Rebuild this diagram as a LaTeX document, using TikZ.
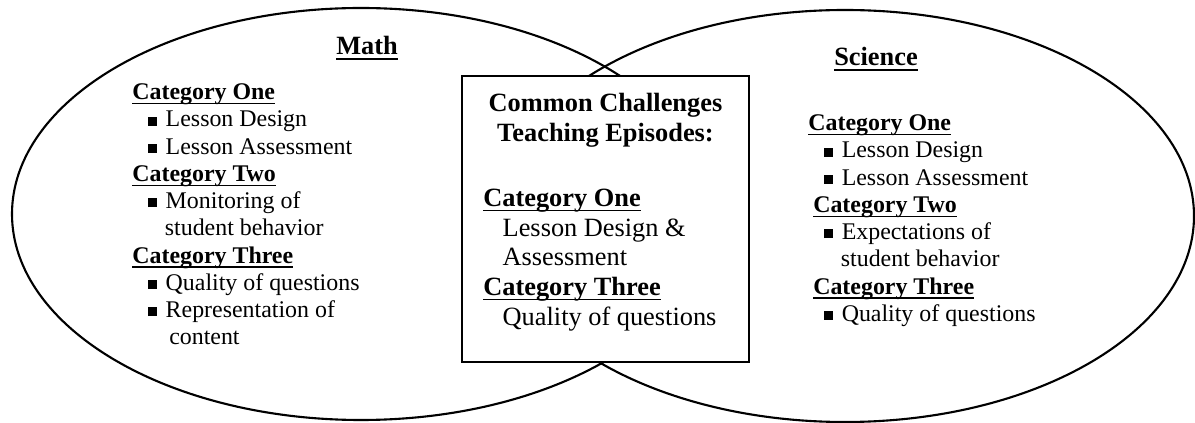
\documentclass[tikz,border=0pt]{standalone}
\usepackage{fontspec}
\setmainfont{Liberation Serif}
\usetikzlibrary{positioning}

% bold heading with a thin rule just under the baseline
\newcommand{\catul}[1]{\textbf{\sbox0{#1}\rlap{\rule[-2.7pt]{\wd0}{0.8pt}}\usebox0}}
% square bullet and the indent of a wrapped item line
\newcommand{\sqitem}{\hspace*{9pt}\rule[0.8pt]{5pt}{5pt}\hspace{5pt}}
\newcommand{\wrapline}{\hspace*{18.5pt}}

\begin{document}
\begin{tikzpicture}[
  set/.style={line width=1.2pt},
  title/.style={font=\fontsize{15}{17}\selectfont, inner sep=0pt, anchor=base},
  list/.style={font=\fontsize{13.6}{15.5}\selectfont, align=left, inner sep=0pt, anchor=north west},
  common/.style={draw, line width=1.2pt, fill=white, minimum width=5.74cm, minimum height=5.72cm},
  boxtext/.style={font=\fontsize{15}{16.9}\selectfont, inner sep=0pt}
]
\useasboundingbox (0,0) rectangle (23.9,8.46);

% the two sets
\draw[set] (7.22,4.18) ellipse [x radius=6.98cm, y radius=4.12cm];
\draw[set] (16.9,4.14) ellipse [x radius=6.98cm, y radius=4.12cm];

% shared part
\node[common] (shared) at (12.11,4.08) {};

% Math side
\node[title] (mathtitle) at (7.34,7.36) {\catul{Math}};
\node[list] (mathlist) at (2.64,6.79) {%
  \catul{Category One}\\
  \sqitem Lesson Design\\
  \sqitem Lesson Assessment\\
  \catul{Category Two}\\
  \sqitem Monitoring of\\
  \wrapline student behavior\\
  \catul{Category Three}\\
  \sqitem Quality of questions\\
  \sqitem Representation of\\
  \hspace*{21pt}content};

% Science side
\node[title] (scitle) at (17.52,7.14) {\catul{Science}};
\node[list] (scilist) at (16.16,6.17) {%
  \catul{Category One}\\
  \sqitem Lesson Design\\
  \sqitem Lesson Assessment\\
  \hspace*{2.8pt}\catul{Category Two}\\
  \sqitem Expectations of\\
  \wrapline student behavior\\
  \hspace*{2.8pt}\catul{Category Three}\\
  \sqitem Quality of questions};

% text inside the shared box
\node[boxtext, align=center, anchor=north, below=0.36cm of shared.north] (sharedtitle)
  {\textbf{Common Challenges}\\\textbf{Teaching Episodes:}};
\node[boxtext, align=left, anchor=north west] (sharedlist) at (9.66,4.69) {%
  \catul{Category One}\\
  \hspace*{11pt}Lesson Design \&\\
  \hspace*{11pt}Assessment\\
  \catul{Category Three}\\
  \hspace*{11pt}Quality of questions};

\end{tikzpicture}
\end{document}
